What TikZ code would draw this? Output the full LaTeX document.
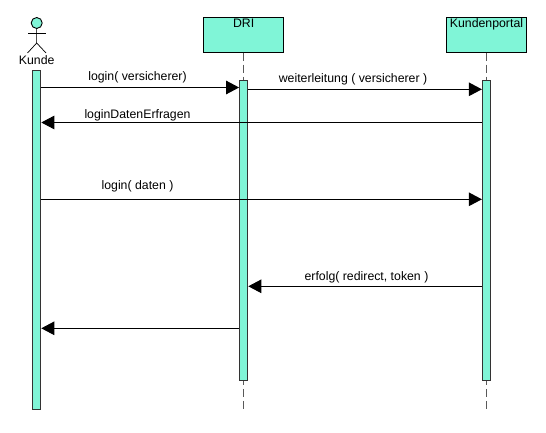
\documentclass[tikz,border=0pt]{standalone}
\usepackage{fontspec}
\setmainfont{Liberation Sans}
\usetikzlibrary{arrows.meta}
\definecolor{teal}{RGB}{128,245,215}
\tikzset{
  x=1pt,y=-1pt,
  every node/.style={font=\fontsize{12.3}{14}\selectfont,text=black,inner sep=0pt},
  headbox/.style={draw=black,fill=teal,line width=1pt,minimum width=80.5pt,minimum height=34.5pt},
  bar/.style={draw=black!80,fill=teal,line width=1.2pt,minimum width=8pt},
  life/.style={draw=black!65,line width=1pt,dash pattern=on 8pt off 4pt},
  msg/.style={draw=black,line width=1pt,-{Triangle[length=13pt,width=13.5pt]}},
  lab/.style={anchor=base},
  stick/.style={draw=black!70,line width=0.9pt}
}
\begin{document}
\begin{tikzpicture}
\useasboundingbox (0,0) rectangle (546,433);
% heads
\node[headbox] (dri) at (243.7,35) {};
\node[headbox] (portal) at (486.5,35) {};
\node[anchor=base] (drilabel) at (243.7,28) {DRI};
\node[anchor=base] (portallabel) at (486.5,28) {Kundenportal};
% lifeline ends
\coordinate (driend) at (243.7,410);
\coordinate (portalend) at (486.5,410);
\draw[life] (dri.south) -- (driend);
\draw[life] (portal.south) -- (portalend);
% activation bars
\node[bar,minimum height=339pt] (kbar) at (36.7,240) {};
\node[bar,minimum height=300pt] (dbar) at (243.7,230.5) {};
\node[bar,minimum height=300pt] (pbar) at (486.5,230.5) {};
% actor
\node[draw=black,fill=teal,circle,minimum size=11pt,line width=0.9pt] (head) at (36.7,23) {};
\coordinate (hip) at (36.7,43);
\coordinate (armL) at (28,33.3);
\coordinate (armR) at (45.5,33.3);
\coordinate (legL) at (27.5,53);
\coordinate (legR) at (46,53);
\draw[stick] (head.south) -- (hip);
\draw[draw=black,line width=0.8pt] (armL) -- (armR);
\draw[draw=black,line width=0.7pt] (legL) -- (hip) -- (legR);
\node[anchor=base] (kunde) at (36.7,64.5) {Kunde};
% message levels
\coordinate (y1) at (0,87.5);
\coordinate (y2) at (0,89.3);
\coordinate (y3) at (0,122.5);
\coordinate (y4) at (0,199.3);
\coordinate (y5) at (0,286.3);
\coordinate (y6) at (0,328.3);
\draw[msg] (kbar.east |- y1) -- (dbar.west |- y1);
\draw[msg] (dbar.east |- y2) -- (pbar.west |- y2);
\draw[msg] (pbar.west |- y3) -- (kbar.east |- y3);
\draw[msg] (kbar.east |- y4) -- (pbar.west |- y4);
\draw[msg] (pbar.west |- y5) -- (dbar.east |- y5);
\draw[msg] (dbar.west |- y6) -- (kbar.east |- y6);
% labels
\node[lab] (l1) at (137.5,81) {login( versicherer)};
\node[lab] (l2) at (353,82.5) {weiterleitung ( versicherer )};
\node[lab] (l3) at (137.5,118.5) {loginDatenErfragen};
\node[lab] (l4) at (137.5,189.5) {login( daten )};
\node[lab] (l5) at (366.5,280) {erfolg( redirect, token )};
\end{tikzpicture}
\end{document}
